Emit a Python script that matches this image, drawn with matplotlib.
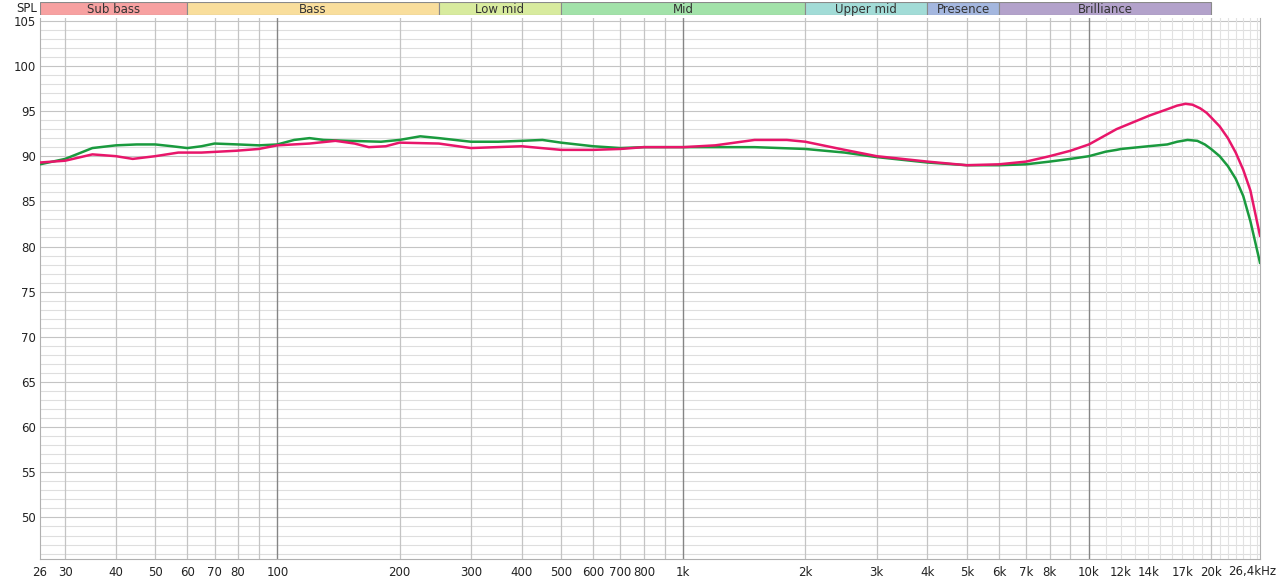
import numpy as np
import matplotlib
matplotlib.use("Agg")
from matplotlib import pyplot as plt

plt.rcParams['font.family'] = ['DejaVu Sans']

# frequency response readings (Hz, dB SPL)
green_f = [26, 30, 35, 40, 45, 50, 55, 60, 65, 70, 80, 90, 100, 110, 120, 130, 150, 180, 200,
           225, 250, 300, 350, 400, 450, 500, 600, 700, 800, 1000, 1200, 1500, 2000, 2500, 3000,
           4000, 5000, 6000, 7000, 8000, 9000, 10000, 11000, 11700, 12000, 14000, 15600, 16500,
           17500, 18500, 19300, 20000, 21000, 22000, 23000, 24000, 25000, 26400]
green_db = [89.1, 89.7, 90.9, 91.2, 91.3, 91.3, 91.1, 90.9, 91.1, 91.4, 91.3, 91.2, 91.3, 91.8, 92.0,
            91.8, 91.7, 91.6, 91.8, 92.2, 92.0, 91.6, 91.6, 91.7, 91.8, 91.5, 91.1, 90.9, 91.0,
            91.0, 91.0, 91.0, 90.8, 90.4, 89.9, 89.3, 89.0, 89.0, 89.1, 89.4, 89.7, 90.0,
            90.5, 90.7, 90.8, 91.1, 91.3, 91.6, 91.8, 91.7, 91.3, 90.8, 90.0, 88.9, 87.5, 85.6, 82.8, 78.2]

pink_f = [26, 30, 35, 40, 44, 50, 57, 65, 79, 90, 100, 120, 139, 155, 168, 185, 200, 250, 300, 400,
          500, 600, 700, 800, 1000, 1200, 1500, 1800, 2000, 2500, 3000, 4000, 5000, 6000, 7000,
          8000, 9000, 10000, 11700, 14100, 15600, 16500, 17300, 18000, 18800, 19500, 20000, 21000,
          22000, 23000, 24000, 25000, 26400]
pink_db = [89.3, 89.5, 90.2, 90.0, 89.7, 90.0, 90.4, 90.4, 90.6, 90.8, 91.2, 91.4, 91.7, 91.4, 91.0,
           91.1, 91.5, 91.4, 90.9, 91.1, 90.7, 90.7, 90.8, 91.0, 91.0, 91.2, 91.8, 91.8, 91.6,
           90.7, 90.0, 89.4, 89.0, 89.1, 89.4, 90.0, 90.6, 91.3, 93.0, 94.5, 95.2, 95.6, 95.8,
           95.7, 95.3, 94.8, 94.3, 93.3, 92.0, 90.4, 88.5, 86.2, 81.2]

bands = ['Sub bass', 'Bass', 'Low mid', 'Mid', 'Upper mid', 'Presence', 'Brilliance']
band_edges = [20, 60, 250, 500, 2000, 4000, 6000, 20000]
band_colors = ['#f7a1a1', '#f9de9c', '#d8eb9e', '#a2e2a9', '#a2dcd7', '#a4b7df', '#b3a2cb']

tick_f = [26, 30, 40, 50, 60, 70, 80, 100, 200, 300, 400, 500, 600, 700, 800, 1000, 2000, 3000,
          4000, 5000, 6000, 7000, 8000, 10000, 12000, 14000, 17000, 20000, 26400]
tick_lbl = ['26', '30', '40', '50', '60', '70', '80', '100', '200', '300', '400', '500', '600', '700',
            '800', '1k', '2k', '3k', '4k', '5k', '6k', '7k', '8k', '10k', '12k', '14k', '17k', '20k',
            '26,4kHz']
grey_ticks = [12000, 14000, 17000]

grid_f = [30, 40, 50, 60, 70, 80, 90, 200, 300, 400, 500, 600, 700, 800, 900,
          2000, 3000, 4000, 5000, 6000, 7000, 8000, 9000, 20000]
dark_grid_f = [100, 1000, 10000]
fine_grid_f = [11000, 12000, 13000, 14000, 15000, 16000, 17000, 18000, 19000,
               21000, 22000, 23000, 24000, 25000, 26000]

W, H = 1280, 584
fig = plt.figure(figsize=(W / 100, H / 100), dpi=100)
x0, x1 = 40, 1260
ax = fig.add_axes([x0 / W, (H - 559) / H, (x1 - x0) / W, (559 - 18) / H])
ax.set_xscale('log')
ax.set_xlim(26, 26400)
ax.set_ylim(45.4, 105.3)

for db in range(46, 106):
    ax.axhline(db, color='#c4c4c4' if db % 5 == 0 else '#dedede', lw=0.8, zorder=0)
for f in fine_grid_f:
    ax.axvline(f, color='#e2e2e2', lw=0.8, zorder=0)
for f in grid_f:
    ax.axvline(f, color='#c4c4c4', lw=0.9, zorder=0)
for f in dark_grid_f:
    ax.axvline(f, color='#858585', lw=1.0, zorder=0)

ax.plot(green_f, green_db, color='#1a9a3e', lw=1.8, zorder=3)
ax.plot(pink_f, pink_db, color='#e8166a', lw=1.8, zorder=4)

ax.minorticks_off()
ax.set_xticks(tick_f[:-1])
ax.set_xticklabels(tick_lbl[:-1])
for t, f in zip(ax.get_xticklabels(), tick_f):
    if f in grey_ticks:
        t.set_color('#9a9a9a')
# last label runs past the right edge of the plot
fig.text(1276 / W, 1 - 572 / H, tick_lbl[-1], fontsize=8.5, ha='right', va='center', color='#222222')
ax.set_yticks(range(50, 106, 5))
ax.tick_params(length=0, labelsize=8.5, colors='#222222', pad=5)
ax.tick_params(axis='y', pad=3)
for s in ax.spines.values():
    s.set_color('#b0b0b0')
    s.set_linewidth(0.8)
ax.spines['top'].set_visible(False)

fig.text(37 / W, 1 - 8 / H, 'SPL', fontsize=8.5, va='center', ha='right', color='#222222')

# band strip
bx = fig.add_axes([x0 / W, (H - 15) / H, (x1 - x0) / W, 13 / H])
bx.set_xscale('log')
bx.set_xlim(26, 26400)
bx.set_ylim(0, 1)
bx.axis('off')
for name, lo, hi, c in zip(bands, band_edges[:-1], band_edges[1:], band_colors):
    lo = max(lo, 26)
    bx.axvspan(lo, hi, color=c, ec='#8a8a8a', lw=0.8)
    bx.text(np.sqrt(lo * hi), 0.45, name, ha='center', va='center', fontsize=8.5, color='#333333')

fig.savefig('out.png', dpi=100)
